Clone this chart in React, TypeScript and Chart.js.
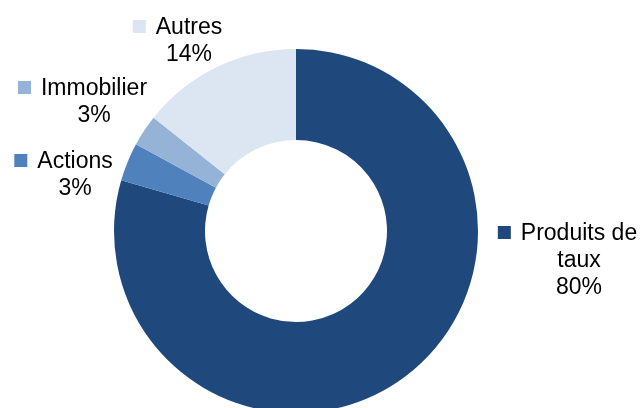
import React, { useEffect, useRef } from "react";
import { Chart, registerables } from "chart.js";

Chart.register(...registerables);

const categories = ["Produits de taux", "Actions", "Immobilier", "Autres"];
const labelLines = [["Produits de", "taux"], ["Actions"], ["Immobilier"], ["Autres"]];
const values = [79.5, 3.4, 2.8, 14.3];
const colors = ["#1F497D", "#4F81BD", "#95B3D7", "#DCE6F2"];

// label anchor offsets (text centre x, first baseline y) relative to chart centre, in px
const labelOffsets = [
  [283, 9],
  [-221, -63],
  [-202, -136],
  [-107, -197],
];

const FONT = "23px 'Liberation Sans', Arial, sans-serif";
const LINE_H = 27;
const SQ = 13;
const GAP = 10;

const labelPlugin = {
  id: "sliceLabels",
  afterDatasetsDraw(chart: any) {
    const ctx = chart.ctx;
    const meta = chart.getDatasetMeta(0);
    const total = values.reduce((a, b) => a + b, 0);
    ctx.save();
    ctx.font = FONT;
    ctx.textBaseline = "alphabetic";
    ctx.textAlign = "center";
    meta.data.forEach((arc: any, i: number) => {
      const cx = arc.x + labelOffsets[i][0];
      const by = arc.y + labelOffsets[i][1];
      const pct = Math.round((values[i] / total) * 100) + "%";
      const lines = [...labelLines[i], pct];
      lines.forEach((ln, j) => {
        const y = by + j * LINE_H;
        ctx.fillStyle = "#000000";
        ctx.fillText(ln, cx, y);
        if (j === 0) {
          const w = ctx.measureText(ln).width;
          const left = cx - w / 2;
          ctx.fillStyle = colors[i];
          ctx.fillRect(left - GAP - SQ, y - SQ - 1, SQ, SQ);
        }
      });
    });
    ctx.restore();
  },
};

export default function App() {
  const ref = useRef<HTMLCanvasElement>(null);
  useEffect(() => {
    if (!ref.current) return;
    const chart = new Chart(ref.current, {
      type: "doughnut",
      data: {
        labels: categories,
        datasets: [
          {
            data: values,
            backgroundColor: colors,
            borderWidth: 0,
            hoverOffset: 0,
            offset: 0,
          },
        ],
      },
      options: {
        responsive: false,
        animation: false,
        devicePixelRatio: 1,
        cutout: "50%",
        layout: { padding: { top: 49, bottom: 49, left: 0, right: 49 } },
        plugins: { legend: { display: false }, tooltip: { enabled: false } },
        events: [],
      },
      plugins: [labelPlugin],
    });
    return () => chart.destroy();
  }, []);
  return (
    <div
      style={{
        position: "fixed",
        left: 0,
        top: 0,
        width: 641,
        height: 408,
        overflow: "hidden",
        background: "#ffffff",
      }}
    >
      <canvas ref={ref} width={641} height={462} style={{ display: "block" }} />
    </div>
  );
}
